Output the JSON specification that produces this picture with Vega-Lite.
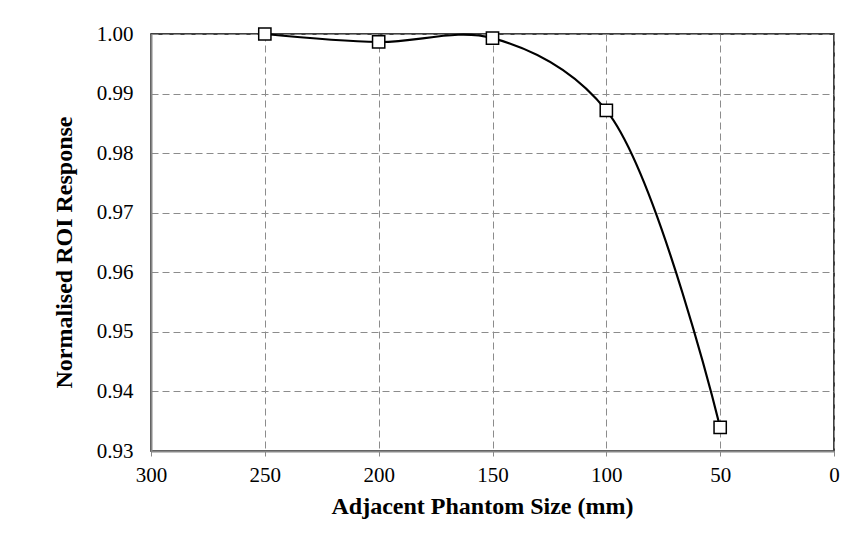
{
  "$schema": "https://vega.github.io/schema/vega-lite/v6.json",
  "width": 683,
  "height": 417,
  "autosize": {"type": "none"},
  "padding": {"left": 151, "top": 34, "right": 28, "bottom": 87},
  "background": "white",
  "data": {"values": [
    {"size": 250, "response": 1.0000},
    {"size": 200, "response": 0.99866},
    {"size": 150, "response": 0.99930},
    {"size": 100, "response": 0.98717},
    {"size": 50, "response": 0.93395}
  ]},
  "config": {
    "view": {"stroke": "black", "strokeWidth": 1.5},
    "font": "Liberation Serif"
  },
  "encoding": {
    "x": {
      "field": "size", "type": "quantitative",
      "scale": {"domain": [300, 0], "nice": false, "zero": false},
      "axis": {
        "title": "Adjacent Phantom Size (mm)",
        "values": [300, 250, 200, 150, 100, 50, 0],
        "format": "d",
        "labelFont": "Liberation Serif", "labelFontSize": 21, "labelColor": "black",
        "labelPadding": 8, "labelFlush": false,
        "ticks": true, "tickSize": 5, "tickColor": "#888888", "tickWidth": 1,
        "domainColor": "#888888", "domainWidth": 2,
        "grid": true, "gridColor": "#8c8c8c", "gridDash": [7, 4], "gridWidth": 1,
        "titleFont": "Liberation Serif", "titleFontSize": 24, "titleFontWeight": "bold", "titleColor": "black",
        "titlePadding": 9, "titleX": 331
      }
    },
    "y": {
      "field": "response", "type": "quantitative",
      "scale": {"domain": [0.93, 1.0], "nice": false, "zero": false},
      "axis": {
        "title": "Normalised ROI Response",
        "values": [0.93, 0.94, 0.95, 0.96, 0.97, 0.98, 0.99, 1.0],
        "format": ".2f",
        "labelFont": "Liberation Serif", "labelFontSize": 21, "labelColor": "black",
        "labelPadding": 18, "labelFlush": false,
        "ticks": false,
        "domainColor": "#888888", "domainWidth": 2,
        "grid": true, "gridColor": "#8c8c8c", "gridDash": [7, 4], "gridWidth": 1,
        "titleFont": "Liberation Serif", "titleFontSize": 24, "titleFontWeight": "bold", "titleColor": "black",
        "titlePadding": 20, "titleY": 218
      }
    }
  },
  "layer": [
    {
      "mark": {"type": "line", "interpolate": "catmull-rom", "color": "black", "strokeWidth": 2.2}
    },
    {
      "mark": {"type": "point", "shape": "square", "filled": true, "fill": "white", "stroke": "black", "strokeWidth": 1.5, "size": 150, "opacity": 1}
    }
  ]
}
